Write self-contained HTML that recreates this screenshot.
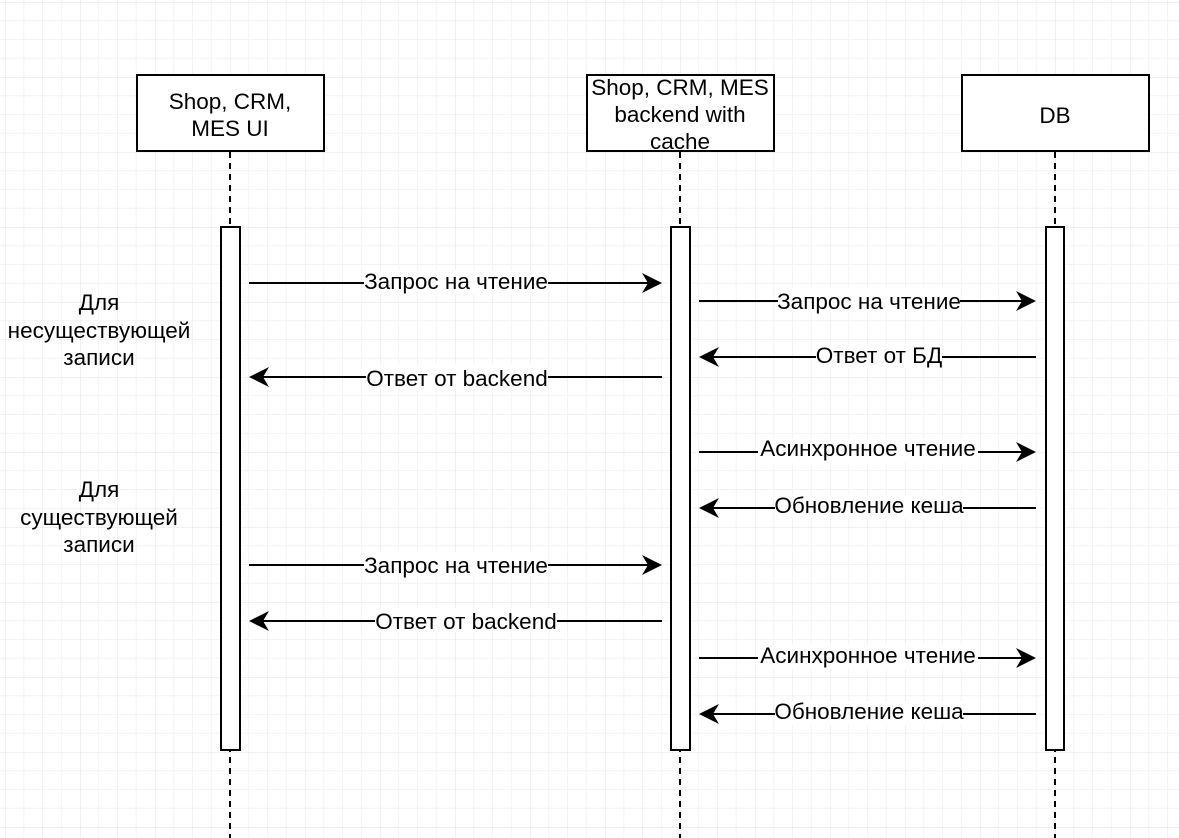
<!DOCTYPE html>
<html><head><meta charset="utf-8"><style>
html,body{margin:0;padding:0;background:#fff}
svg{display:block}
text{font-family:"Liberation Sans",Arial,sans-serif;font-size:22.5px;fill:#000}
</style></head><body>
<svg width="1179" height="838" viewBox="0 0 1179 838" xmlns="http://www.w3.org/2000/svg">
<defs>
<pattern id="g" x="5" y="2" width="75" height="75" patternUnits="userSpaceOnUse">
<path d="M18.75 0V75M37.5 0V75M56.25 0V75M0 18.75H75M0 37.5H75M0 56.25H75" stroke="#f3f3f3" stroke-width="1" fill="none"/>
<path d="M0 0V75M0 0H75" stroke="#e2e2e2" stroke-width="1" fill="none"/>
</pattern>
</defs>
<rect width="1179" height="838" fill="url(#g)"/>
<g stroke="#000" stroke-width="2" stroke-dasharray="6,5">
<line x1="230" y1="152" x2="230" y2="838"/>
<line x1="680" y1="152" x2="680" y2="838"/>
<line x1="1055" y1="152" x2="1055" y2="838"/>
</g>
<g fill="#fff" stroke="#000" stroke-width="2">
<rect x="137" y="75" width="187" height="76"/>
<rect x="587" y="75" width="187" height="76"/>
<rect x="962" y="75" width="187" height="76"/>
<rect x="221" y="227" width="19" height="523"/>
<rect x="671" y="227" width="19" height="523"/>
<rect x="1046" y="227" width="18" height="523"/>
</g>
<g text-anchor="middle">
<text x="230" y="109">Shop, CRM,</text>
<text x="230" y="136">MES UI</text>
<text x="680" y="95">Shop, CRM, MES</text>
<text x="680" y="122">backend with</text>
<text x="680" y="149">cache</text>
<text x="1055" y="123">DB</text>
<text x="99" y="310">Для</text>
<text x="99" y="338">несуществующей</text>
<text x="99" y="365">записи</text>
<text x="99" y="497">Для</text>
<text x="99" y="525">существующей</text>
<text x="99" y="552">записи</text>
</g>
<g stroke="#000" stroke-width="2">
<line x1="249" y1="283" x2="650" y2="283"/>
<line x1="699" y1="301" x2="1024" y2="301"/>
<line x1="1036" y1="357" x2="711" y2="357"/>
<line x1="662" y1="377" x2="261" y2="377"/>
<line x1="699" y1="452" x2="1024" y2="452"/>
<line x1="1036" y1="508" x2="711" y2="508"/>
<line x1="249" y1="565" x2="650" y2="565"/>
<line x1="662" y1="621" x2="261" y2="621"/>
<line x1="699" y1="658" x2="1024" y2="658"/>
<line x1="1036" y1="714" x2="711" y2="714"/>
</g>
<g fill="#000">
<path d="M662 283L642 273L648 283L642 293Z"/>
<path d="M1036 301L1016 291L1022 301L1016 311Z"/>
<path d="M699 357L719 347L713 357L719 367Z"/>
<path d="M249 377L269 367L263 377L269 387Z"/>
<path d="M1036 452L1016 442L1022 452L1016 462Z"/>
<path d="M699 508L719 498L713 508L719 518Z"/>
<path d="M662 565L642 555L648 565L642 575Z"/>
<path d="M249 621L269 611L263 621L269 631Z"/>
<path d="M1036 658L1016 648L1022 658L1016 668Z"/>
<path d="M699 714L719 704L713 714L719 724Z"/>
</g>
<g text-anchor="middle">
<g fill="#fff">
<rect x="364" y="270" width="184" height="24"/>
<rect x="778" y="288" width="182" height="24"/>
<rect x="816" y="344" width="126" height="24"/>
<rect x="366" y="364" width="182" height="24"/>
<rect x="758" y="439" width="220" height="24"/>
<rect x="775" y="495" width="188" height="24"/>
<rect x="364" y="552" width="184" height="24"/>
<rect x="375" y="608" width="182" height="24"/>
<rect x="758" y="645" width="220" height="24"/>
<rect x="775" y="701" width="188" height="24"/>
</g>
<text x="456" y="289">Запрос на чтение</text>
<text x="869" y="309">Запрос на чтение</text>
<text x="879" y="363">Ответ от БД</text>
<text x="457" y="386">Ответ от backend</text>
<text x="868" y="456">Асинхронное чтение</text>
<text x="869" y="513">Обновление кеша</text>
<text x="456" y="573">Запрос на чтение</text>
<text x="466" y="629">Ответ от backend</text>
<text x="868" y="663">Асинхронное чтение</text>
<text x="869" y="719">Обновление кеша</text>
</g>
</svg>
</body></html>
